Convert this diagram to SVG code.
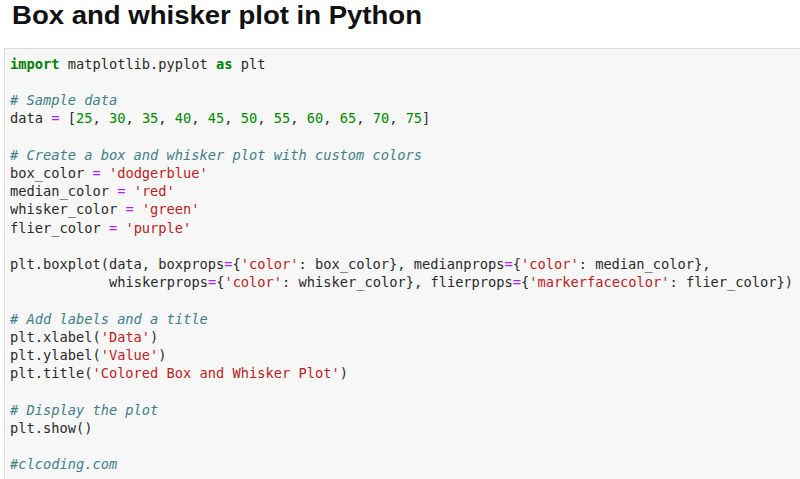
<svg xmlns="http://www.w3.org/2000/svg" width="800" height="479" viewBox="0 0 800 479">
<style>
.t{font-family:"Liberation Sans",Arial,sans-serif;font-weight:bold;font-size:26.5px;fill:#111}
.code{font-family:"DejaVu Sans Mono","Liberation Mono",monospace;font-size:13.7px;fill:#2a2a2a}
.k{fill:#008000;font-weight:bold}
.o{fill:#AA22FF}
.n{fill:#008800}
.s{fill:#BA2121}
.c{fill:#3f7f88;font-style:italic}
</style>
<rect x="0" y="0" width="800" height="479" fill="#ffffff"/>
<text id="title" class="t" x="12" y="24" textLength="410" lengthAdjust="spacingAndGlyphs">Box and whisker plot in Python</text>
<g id="codebox">
<rect x="4.5" y="48.5" width="800" height="440" fill="#f7f7f7" stroke="#dedede" stroke-width="1"/>
</g>
<g id="code" class="code">
<text x="10" y="68.8"><tspan class="k">import</tspan> matplotlib.pyplot <tspan class="k">as</tspan> plt</text>
<text x="10" y="105.2"><tspan class="c"># Sample data</tspan></text>
<text x="10" y="123.4">data <tspan class="o">=</tspan> [<tspan class="n">25</tspan>, <tspan class="n">30</tspan>, <tspan class="n">35</tspan>, <tspan class="n">40</tspan>, <tspan class="n">45</tspan>, <tspan class="n">50</tspan>, <tspan class="n">55</tspan>, <tspan class="n">60</tspan>, <tspan class="n">65</tspan>, <tspan class="n">70</tspan>, <tspan class="n">75</tspan>]</text>
<text x="10" y="159.8"><tspan class="c"># Create a box and whisker plot with custom colors</tspan></text>
<text x="10" y="178">box_color <tspan class="o">=</tspan> <tspan class="s">'dodgerblue'</tspan></text>
<text x="10" y="196.2">median_color <tspan class="o">=</tspan> <tspan class="s">'red'</tspan></text>
<text x="10" y="214.4">whisker_color <tspan class="o">=</tspan> <tspan class="s">'green'</tspan></text>
<text x="10" y="232.6">flier_color <tspan class="o">=</tspan> <tspan class="s">'purple'</tspan></text>
<text x="10" y="269">plt.boxplot(data, boxprops<tspan class="o">=</tspan>{<tspan class="s">'color'</tspan>: box_color}, medianprops<tspan class="o">=</tspan>{<tspan class="s">'color'</tspan>: median_color},</text>
<text x="109" y="287.2">whiskerprops<tspan class="o">=</tspan>{<tspan class="s">'color'</tspan>: whisker_color}, flierprops<tspan class="o">=</tspan>{<tspan class="s">'markerfacecolor'</tspan>: flier_color})</text>
<text x="10" y="323.6"><tspan class="c"># Add labels and a title</tspan></text>
<text x="10" y="341.8">plt.xlabel(<tspan class="s">'Data'</tspan>)</text>
<text x="10" y="360">plt.ylabel(<tspan class="s">'Value'</tspan>)</text>
<text x="10" y="378.2">plt.title(<tspan class="s">'Colored Box and Whisker Plot'</tspan>)</text>
<text x="10" y="414.6"><tspan class="c"># Display the plot</tspan></text>
<text x="10" y="432.8">plt.show()</text>
<text x="10" y="469.2"><tspan class="c">#clcoding.com</tspan></text>
</g>
</svg>
